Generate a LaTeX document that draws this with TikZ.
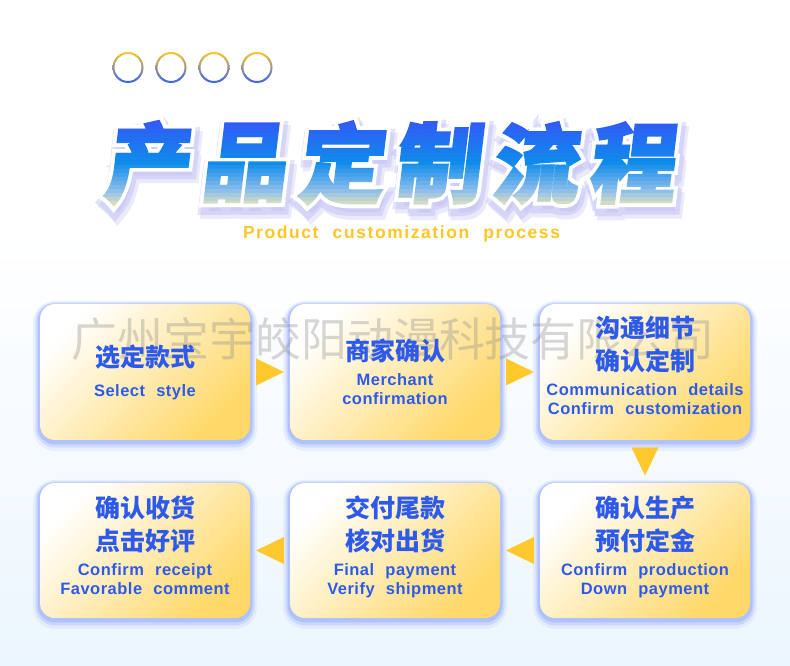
\documentclass[tikz,border=0pt]{standalone}
\usepackage{fontspec}
\usetikzlibrary{positioning, fit, backgrounds}
\newfontfamily\cjk{Noto Sans CJK SC}
\newfontfamily\cjkfill{Noto Sans CJK SC}[FakeBold=3]
\newfontfamily\cjkout{Noto Sans CJK SC}[FakeBold=12]
\newfontfamily\cjkshd{Noto Sans CJK SC}[FakeBold=18]
\newfontfamily\enf{Liberation Sans Bold}[LetterSpace=3, WordSpace=2.2]
\newfontfamily\subf{Liberation Sans Bold}[LetterSpace=9, WordSpace=2.2]

\definecolor{txtblue}{RGB}{45,90,235}
\definecolor{ylw}{RGB}{255,216,104}
\definecolor{cream}{RGB}{255,244,208}
\definecolor{trifill}{RGB}{255,200,45}
\definecolor{glow}{RGB}{150,172,255}
\definecolor{bgblue}{RGB}{236,246,254}
\definecolor{ringylw}{RGB}{250,200,40}
\definecolor{ringblu}{RGB}{60,95,245}
\definecolor{subylw}{RGB}{255,198,40}
\definecolor{wmark}{RGB}{140,140,140}
\definecolor{ttlshd}{RGB}{175,175,240}

\newcommand\cnbox{\cjk\bfseries\fontsize{25}{33}\selectfont}
\newcommand\en{\enf\fontsize{16.5}{19}\selectfont}
\newcommand\ttlsize{\fontsize{86}{86}\selectfont}
% two english lines, set 19pt apart
\newcommand\entwo[2]{\en\begin{tabular}[t]{@{}c@{}}#1\\#2\end{tabular}}

\pgfdeclarelayer{cards}
\pgfdeclarelayer{mark}
\pgfsetlayers{background,cards,mark,main}

\tikzset{
  box/.style  = {rectangle, minimum width=210pt, minimum height=136pt, inner sep=0pt,
                 align=center, text=txtblue, font=\cnbox},
  card/.style = {rectangle, rounded corners=15pt, inner sep=0pt,
                 top color=white, middle color=cream, bottom color=ylw, shading angle=45,
                 preaction={draw=glow, line width=14pt, opacity=0.15, transform canvas={yshift=-4pt}},
                 preaction={draw=glow, line width=9pt, opacity=0.3, transform canvas={yshift=-3pt}},
                 preaction={draw=glow, line width=5pt, opacity=0.5, transform canvas={yshift=-2pt}}},
  ttl/.style  = {inner sep=0pt, transform shape, font=\cjkfill\bfseries\ttlsize},
  sub/.style  = {inner sep=0pt, text=subylw, font=\subf\fontsize{17.5}{20}\selectfont},
  wm/.style   = {inner sep=0pt, text=wmark, opacity=0.35, font=\cjk\fontsize{46}{46}\selectfont},
  tri/.pic    = {\fill[trifill] (-14pt,-13.5pt) -- (-14pt,13.5pt) -- (14pt,0pt) -- cycle;},
}

\begin{document}
\begin{tikzpicture}[x=1pt, y=1pt]
  \useasboundingbox (0,0) rectangle (790,666);

  % ---- page background ----
  \begin{pgfonlayer}{background}
    \fill[white] (0,0) rectangle (790,666);
    \shade[top color=white, bottom color=bgblue] (0,0) rectangle (790,430);
  \end{pgfonlayer}

  % ---- four rings ----
  \foreach \cx in {128,171,214,257}
    \shade[top color=ringylw, bottom color=ringblu, even odd rule]
      (\cx,598.5) circle (15.5) (\cx,598.5) circle (13.5);

  % ---- title: soft shadow, white rim, banded gradient ----
  \foreach \ch [count=\i] in {产,品,定,制,流,程} {
    \pgfmathsetmacro\tx{53+97*\i}
    \begin{scope}[shift={(\tx,503)}, xslant=0.12]
      \node[ttl, text=ttlshd, opacity=0.25, font=\cjkshd\bfseries\ttlsize] at (5,-9) {\ch};
      \node[ttl, text=ttlshd, opacity=0.35, font=\cjkshd\bfseries\ttlsize] at (2,-5) {\ch};
      \node[ttl, text=white, font=\cjkout\bfseries\ttlsize] (t\i) at (0,0) {\ch};
      \foreach \k in {0,...,22} {
        \pgfmathsetmacro\t{(\k+0.5)/23}
        \pgfmathtruncatemacro\R{\t<0.5 ? 55-40*\t/0.5 : (\t<0.8 ? 15+125*(\t-0.5)/0.3 : 140+105*(\t-0.8)/0.2)}
        \pgfmathtruncatemacro\G{\t<0.5 ? 85+55*\t/0.5 : (\t<0.8 ? 140+50*(\t-0.5)/0.3 : 190+46*(\t-0.8)/0.2)}
        \pgfmathtruncatemacro\B{\t<0.5 ? 250-15*\t/0.5 : (\t<0.8 ? 235+0*(\t-0.5)/0.3 : 235-55*(\t-0.8)/0.2)}
        \definecolor{slc}{RGB}{\R,\G,\B}
        \begin{scope}
          \clip (-70,46-4*\k) rectangle (70,41.8-4*\k);
          \node[ttl, text=slc] at (0,0) {\ch};
        \end{scope}
      }
    \end{scope}
  }

  \node[sub] (sub) at (401.5,432) {Product customization process};

  % ---- steps, top row left to right, bottom row right to left ----
  \node[box] (b1) at (145,294)   {选定款式\\[-3pt]\en Select style};
  \node[box] (b2) at (395,291)   {商家确认\\[-8pt]\entwo{Merchant}{confirmation}};
  \node[box] (b3) at (645,298)   {沟通细节\\确认定制\\[-8pt]\entwo{Communication details}{Confirm customization}};
  \node[box] (b4) at (645,118)   {确认生产\\预付定金\\[-8pt]\entwo{Confirm production}{Down payment}};
  \node[box] (b5) at (395,118)   {交付尾款\\核对出货\\[-8pt]\entwo{Final payment}{Verify shipment}};
  \node[box] (b6) at (145,118)   {确认收货\\点击好评\\[-8pt]\entwo{Confirm receipt}{Favorable comment}};

  \begin{pgfonlayer}{cards}
    \foreach \i in {1,...,3}
      \node[card, minimum width=210pt, minimum height=136pt] (c\i) at (b\i |- 0,294) {};
    \foreach \i in {4,...,6}
      \node[card, minimum width=210pt, minimum height=135pt] (c\i) at (b\i |- 0,115.5) {};
  \end{pgfonlayer}

  % ---- watermark ----
  \begin{pgfonlayer}{mark}
    \node[wm] (wm) at (393,327) {广州宝宇皎阳动漫科技有限公司};
  \end{pgfonlayer}

  % ---- triangles between steps ----
  \path (c1) -- (c2) pic[midway, sloped, allow upside down] {tri};
  \path (c2) -- (c3) pic[midway, sloped, allow upside down] {tri};
  \path (c3) -- (c4) pic[midway, sloped, allow upside down] {tri};
  \path (c4) -- (c5) pic[midway, sloped, allow upside down] {tri};
  \path (c5) -- (c6) pic[midway, sloped, allow upside down] {tri};
\end{tikzpicture}
\end{document}
